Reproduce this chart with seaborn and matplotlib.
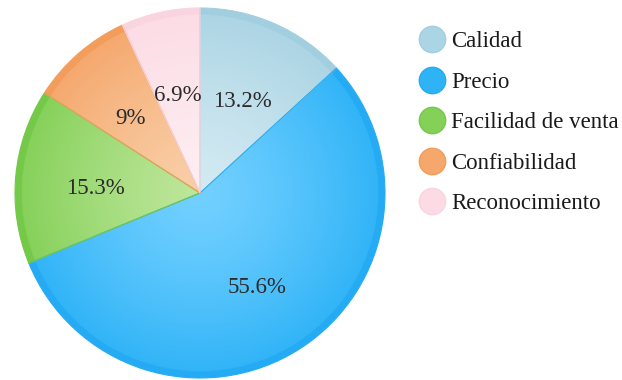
import numpy as np
import matplotlib
matplotlib.use("Agg")
import matplotlib.pyplot as plt
import matplotlib.colors as mcolors
from matplotlib.lines import Line2D
import seaborn as sns

categories = ["Calidad", "Precio", "Facilidad de venta", "Confiabilidad", "Reconocimiento"]
shares = [13.2, 55.6, 15.3, 9, 6.9]
share_labels = ["13.2%", "55.6%", "15.3%", "9%", "6.9%"]

# (centre, edge, rim) colours for each slice
inner_colors = ["#d3eaf2", "#72d0ff", "#bde69a", "#f9cfa8", "#fdeef2"]
outer_colors = ["#abd4e4", "#2fb3f7", "#84d058", "#f5a76c", "#fcdbe5"]
rim_colors = ["#a2cfe0", "#25abf4", "#74c948", "#f39d5c", "#f9d5e0"]

sns.set_theme(style="white")
plt.rcParams["font.family"] = ["Liberation Serif", "DejaVu Serif"]

fig = plt.figure(figsize=(6.22, 3.8), dpi=100)
cx, cy, R = 200, 193, 185
W, H = 622, 380
ax = fig.add_axes([(cx - R) / W, (H - cy - R) / H, 2 * R / W, 2 * R / H])

wedges, _ = ax.pie(shares, startangle=90, counterclock=False, radius=1,
                   colors=["none"] * len(shares),
                   wedgeprops=dict(linewidth=0))

n = 600
xs = np.linspace(-1, 1, n)
X, Y = np.meshgrid(xs, xs)
Rr = np.sqrt(X ** 2 + Y ** 2)
t = np.clip(Rr, 0, 1)[..., None]

for w, ci, co, cr in zip(wedges, inner_colors, outer_colors, rim_colors):
    a = np.array(mcolors.to_rgb(ci))
    b = np.array(mcolors.to_rgb(co))
    c = np.array(mcolors.to_rgb(cr))
    img = a * (1 - t ** 1.3) + b * t ** 1.3
    rim = (Rr > 0.965)[..., None]
    img = np.where(rim, c, img)
    im = ax.imshow(img, extent=[-1, 1, -1, 1], origin="lower",
                   interpolation="bilinear", zorder=1)
    im.set_clip_path(w)
    # thin boundary line in a deeper tone of the slice colour
    w.set_edgecolor(cr)
    w.set_linewidth(0.8)
    w.set_zorder(2)

# percentage labels placed along each slice's middle angle
angle = 90.0
for val, lab in zip(shares, share_labels):
    mid = np.deg2rad(angle - val * 3.6 / 2)
    angle -= val * 3.6
    r = 0.57
    ax.text(r * np.cos(mid), r * np.sin(mid) - 0.015, lab, ha="center",
            va="center_baseline", fontsize=16.5, color="#2b2b2b", zorder=3)

ax.set_xlim(-1, 1)
ax.set_ylim(-1, 1)
ax.set_aspect("equal")
ax.axis("off")

handles = [Line2D([0], [0], marker="o", linestyle="none", markersize=19,
                  markerfacecolor=co, markeredgecolor=cr, markeredgewidth=1.0)
           for co, cr in zip(outer_colors, rim_colors)]
fig.legend(handles, categories, loc="upper left",
           bbox_to_anchor=(410 / W, 1 - 22 / H), frameon=False,
           fontsize=16.5, labelspacing=0.85, handletextpad=0.3,
           handlelength=1.1, borderaxespad=0, labelcolor="#1a1a1a")

fig.savefig("out.png", dpi=100, facecolor="white")
